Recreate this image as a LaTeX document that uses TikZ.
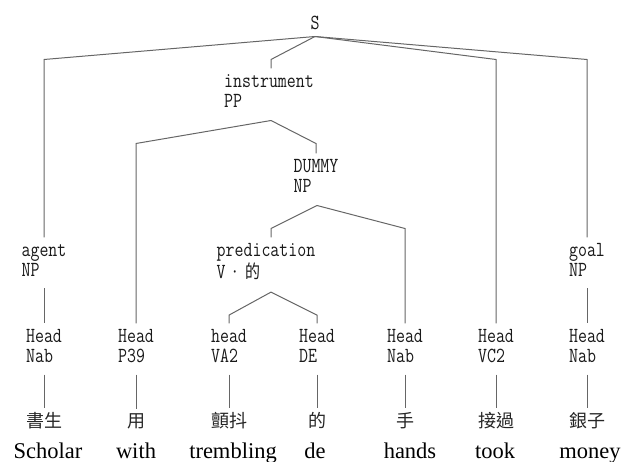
\documentclass[tikz,border=0pt]{standalone}
\usepackage{fontspec}
\usepackage{graphicx}
\usetikzlibrary{calc}
\newfontfamily\cjkfont{Noto Sans CJK TC}
\newfontfamily\wordfont{Liberation Serif}
% narrow two-line tree label
\newcommand{\tlab}[1]{\scalebox{0.81}[1]{\begin{tabular}[t]{@{}l@{}}#1\end{tabular}}}
% two character cells of the label font
\newcommand{\dcell}[1]{\makebox[1.05em]{#1}}

\begin{document}
\begin{tikzpicture}[x=1pt,y=-1pt,
  lab/.style={inner sep=0pt, outer xsep=0pt, outer ysep=5.5pt, anchor=base,
    text=black!90, font=\ttfamily\fontsize{21.5}{20}\selectfont},
  han/.style={inner sep=0pt, outer xsep=0pt, outer ysep=4pt, anchor=base,
    text=black!85, font=\cjkfont\fontsize{18}{20}\selectfont},
  gloss/.style={inner sep=0pt, anchor=base, text=black,
    font=\wordfont\fontsize{22.5}{24}\selectfont},
  edge/.style={draw=black!60, line width=1pt, line join=miter}]
\useasboundingbox (0,0) rectangle (624,462);

% phrase nodes
\node[lab] (S)     at (315,30)  {\tlab{S}};
\node[lab] (instr) at (269,88)  {\tlab{instrument\\PP}};
\node[lab] (agent) at (44,257)  {\tlab{agent\\NP}};
\node[lab] (goal)  at (587,257) {\tlab{goal\\NP}};
\node[lab] (dummy) at (316,173) {\tlab{DUMMY\\NP}};
\node[lab] (pred)  at (266,257) {\tlab{predication\\V\dcell{·}\dcell{\cjkfont\fontsize{18.5}{20}\selectfont 的}}};

% head nodes
\node[lab] (h1) at (44,343)  {\tlab{Head\\Nab}};
\node[lab] (h2) at (136,343) {\tlab{Head\\P39}};
\node[lab] (h3) at (229,343) {\tlab{head\\VA2}};
\node[lab] (h4) at (317,343) {\tlab{Head\\DE}};
\node[lab] (h5) at (405,343) {\tlab{Head\\Nab}};
\node[lab] (h6) at (496,343) {\tlab{Head\\VC2}};
\node[lab] (h7) at (587,343) {\tlab{Head\\Nab}};

% words
\node[han] (w1) at (44,427)  {書生};
\node[han] (w2) at (136,427) {用};
\node[han] (w3) at (229,427) {顫抖};
\node[han] (w4) at (317,427) {的};
\node[han] (w5) at (405,427) {手};
\node[han] (w6) at (496,427) {接過};
\node[han] (w7) at (587,427) {銀子};

% glosses
\node[gloss] (g1) at (48,458)  {Scholar};
\node[gloss] (g2) at (136,458) {with};
\node[gloss] (g3) at (233,458) {trembling};
\node[gloss] (g4) at (315,458) {de};
\node[gloss] (g5) at (410,458) {hands};
\node[gloss] (g6) at (495,458) {took};
\node[gloss] (g7) at (590,458) {money};

% branching points and the level of their corners
\coordinate (jS) at ([yshift=5pt]S.south);
\coordinate (kS) at ($(jS)+(0,23)$);
\coordinate (jI) at ([xshift=2pt,yshift=-1pt]instr.south);
\coordinate (kI) at ($(jI)+(0,23)$);
\coordinate (jD) at ([xshift=1pt,yshift=-1pt]dummy.south);
\coordinate (kD) at ($(jD)+(0,23)$);
\coordinate (jP) at ([xshift=5pt,yshift=-2pt]pred.south);
\coordinate (kP) at ($(jP)+(0,23)$);

% branches
\draw[edge] (jS) -- (kS -| agent.north) -- (agent.north);
\draw[edge] (jS) -- (kS -| jI) -- (instr.north -| jI);
\draw[edge] (jS) -- (kS -| h6.north) -- (h6.north);
\draw[edge] (jS) -- (kS -| goal.north) -- (goal.north);
\draw[edge] (jI) -- (kI -| h2.north) -- (h2.north);
\draw[edge] (jI) -- (kI -| dummy.north) -- (dummy.north);
\draw[edge] (jD) -- (kD -| jP) -- (pred.north -| jP);
\draw[edge] (jD) -- (kD -| h5.north) -- (h5.north);
\draw[edge] (jP) -- (kP -| h3.north) -- (h3.north);
\draw[edge] (jP) -- (kP -| h4.north) -- (h4.north);
\draw[edge] (agent.south) -- (h1.north);
\draw[edge] (goal.south) -- (h7.north);
\foreach \i in {1,...,7}
  \draw[edge] (h\i.south) -- (w\i.north);
\end{tikzpicture}
\end{document}
